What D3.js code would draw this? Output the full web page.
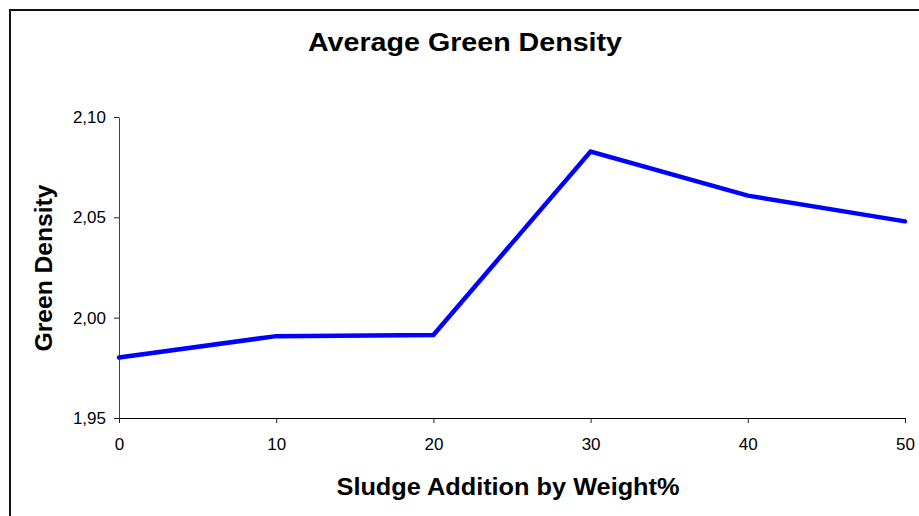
<!DOCTYPE html>
<html><head><meta charset="utf-8">
<script src="https://cdn.jsdelivr.net/npm/d3@7"></script>
<style>body{margin:0;background:#fff}svg{display:block}text{font-family:"Liberation Sans",Arial,sans-serif}</style>
</head><body>
<svg id="c" width="919" height="516"></svg>
<script>
const xValues = [0, 10, 20, 30, 40, 50];
const densities = [1.9802, 1.9908, 1.9914, 2.0828, 2.0608, 2.0480];
const yTicks = [1.95, 2.00, 2.05, 2.10];
const xTicks = [0, 10, 20, 30, 40, 50];
const title = "Average Green Density";
const xTitle = "Sludge Addition by Weight%";
const yTitle = "Green Density";

const svg = d3.select("#c");
svg.append("rect").attr("x",0).attr("y",0).attr("width",919).attr("height",516).attr("fill","#fff");
svg.append("path").attr("d","M10,600 L10,10 L1000,10").attr("fill","none").attr("stroke","#111").attr("stroke-width",2);

const x = d3.scaleLinear().domain([0,50]).range([119,905]);
const y = d3.scaleLinear().domain([1.95,2.10]).range([418,117]);
const fmt = d => d.toFixed(2).replace(".", ",");

const gy = svg.append("g").attr("transform","translate(119,0)")
  .call(d3.axisLeft(y).tickValues(yTicks).tickFormat(fmt).tickSize(5).tickPadding(8).tickSizeOuter(0));
gy.select(".domain").attr("stroke","#444");
gy.selectAll(".tick line").attr("stroke","#222");
gy.selectAll("text").attr("font-size",17).attr("fill","#000").attr("font-family","Liberation Sans, Arial, sans-serif");

const gx = svg.append("g").attr("transform","translate(0,418)")
  .call(d3.axisBottom(x).tickValues(xTicks).tickSize(5).tickPadding(15).tickSizeOuter(0));
gx.select(".domain").attr("stroke","#000");
gx.selectAll(".tick line").attr("stroke","#222");
gx.selectAll("text").attr("font-size",17).attr("fill","#000").attr("font-family","Liberation Sans, Arial, sans-serif");

const line = d3.line().x((d,i)=>x(xValues[i])).y(d=>y(d));
svg.append("path").datum(densities).attr("d",line).attr("fill","none")
  .attr("stroke","#0000FF").attr("stroke-width",4.5).attr("stroke-linejoin","miter").attr("stroke-linecap","round");

svg.append("text").attr("x",465).attr("y",51).attr("text-anchor","middle")
  .attr("font-size",26).attr("font-weight","bold")
  .attr("textLength",314).attr("lengthAdjust","spacingAndGlyphs").text(title);
svg.append("text").attr("x",508).attr("y",495).attr("text-anchor","middle")
  .attr("font-size",24).attr("font-weight","bold")
  .attr("textLength",343).attr("lengthAdjust","spacingAndGlyphs").text(xTitle);
svg.append("text").attr("transform","translate(52,268) rotate(-90)").attr("text-anchor","middle")
  .attr("font-size",23).attr("font-weight","bold")
  .attr("textLength",167).attr("lengthAdjust","spacingAndGlyphs").text(yTitle);
</script>
</body></html>
